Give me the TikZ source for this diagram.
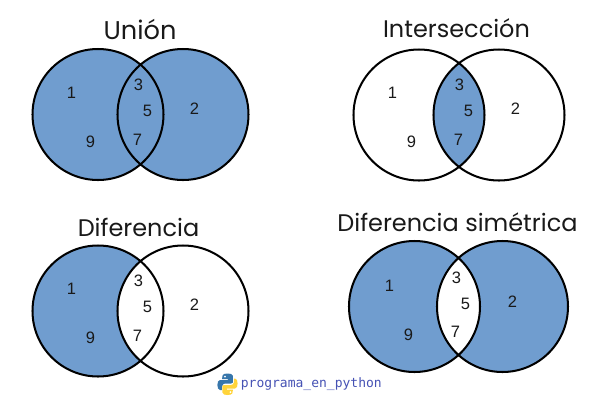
\documentclass[tikz,border=0pt]{standalone}
\usepackage{fontspec}
\setmainfont{Liberation Sans}
\newfontfamily\titlefont{Poppins}
\setmonofont{DejaVu Sans Mono}
\usetikzlibrary{positioning}
\definecolor{vennblue}{HTML}{709DCF}
\definecolor{markblue}{HTML}{4652B4}
\definecolor{pyblue}{HTML}{3776AB}
\definecolor{pyyellow}{HTML}{FFD43B}
\tikzset{
  ring/.style={draw=black, line width=1.15pt},
  blob/.style={fill=vennblue},
  vtitle/.style={font=\titlefont\fontsize{13.65}{16}\selectfont, text=black!90, inner sep=0pt},
  num/.style={font=\fontsize{9.4}{10}\selectfont, text=black!90, inner sep=0pt},
  brandtext/.style={font=\ttfamily\fontsize{7.4}{9}\selectfont, text=markblue, inner sep=0pt}
}
% numbers of one diagram, #1 = name, #2 = shift
\newcommand{\vennnums}[2]{
  \begin{scope}[shift={#2}]
    \foreach \v/\px/\py in {1/71.5/93, 9/90.5/142, 3/138.5/85, 5/147.5/111, 7/137.5/139.5, 2/194.5/109}
      \node[num] (#1\v) at (\px,\py) {\v};
  \end{scope}
}
\begin{document}
\begin{tikzpicture}[x=.02cm,y=-.02cm]
  \useasboundingbox (0,0) rectangle (600,410);

  % union
  \fill[blob] (98,114.5) circle (65.5) (183,114.5) circle (65.5);
  \draw[ring] (98,114.5) circle (65.5) (183,114.5) circle (65.5);
  \node[vtitle, font=\titlefont\fontsize{14.6}{16}\selectfont] (union) at (140,29) {Unión};
  \vennnums{u}{(0,0)}

  % intersection
  \begin{scope}
    \clip (419,115) circle (65.5);
    \fill[blob] (499,115) circle (65.5);
  \end{scope}
  \draw[ring] (419,115) circle (65.5) (499,115) circle (65.5);
  \node[vtitle] (inter) at (456.5,28) {Intersección};
  \vennnums{i}{(321,0)}

  % difference
  \fill[blob] (98,311) circle (65.5);
  \fill[white] (183,311) circle (65.5);
  \draw[ring] (98,311) circle (65.5) (183,311) circle (65.5);
  \node[vtitle] (diff) at (138.5,227) {Diferencia};
  \vennnums{d}{(0,196)}

  % symmetric difference
  \fill[blob] (414.5,306.5) circle (65.5) (502.5,306.5) circle (65.5);
  \begin{scope}
    \clip (414.5,306.5) circle (65.5);
    \fill[white] (502.5,306.5) circle (65.5);
  \end{scope}
  \draw[ring] (414.5,306.5) circle (65.5) (502.5,306.5) circle (65.5);
  \node[vtitle] (sym) at (457.5,222) {Diferencia simétrica};
  \vennnums{s}{(318,192.5)}

  % footer
  \fill[pyblue] (227.5,373.5) .. controls (222,373.5) and (222,376) .. (222,379) -- (228,379) -- (228,380) -- (220,380)
    .. controls (216.5,380) and (216.5,390) .. (220,390) -- (222,390) -- (222,386.5)
    .. controls (222,384.5) and (224,383.5) .. (225,383.5) -- (231,383.5)
    .. controls (233,383.5) and (233,382) .. (233,381) -- (233,376) .. controls (233,374) and (230,373.5) .. (227.5,373.5) -- cycle;
  \fill[pyyellow] (227.5,395) .. controls (233,395) and (233,392.5) .. (233,389.5) -- (227,389.5) -- (227,388.5) -- (235,388.5)
    .. controls (238.5,388.5) and (238.5,378.5) .. (235,378.5) -- (234,378.5) -- (234,382)
    .. controls (234,384) and (232,385) .. (231,385) -- (224,385)
    .. controls (222,385) and (222.5,386.5) .. (222.5,387.5) -- (222.5,392.5) .. controls (222.5,394.5) and (225,395) .. (227.5,395) -- cycle;
  \fill[white] (225,376.5) circle (1) (230.5,392) circle (1);
  \node[brandtext, anchor=west] (brand) at (240.5,384) {programa\_en\_python};
\end{tikzpicture}
\end{document}
